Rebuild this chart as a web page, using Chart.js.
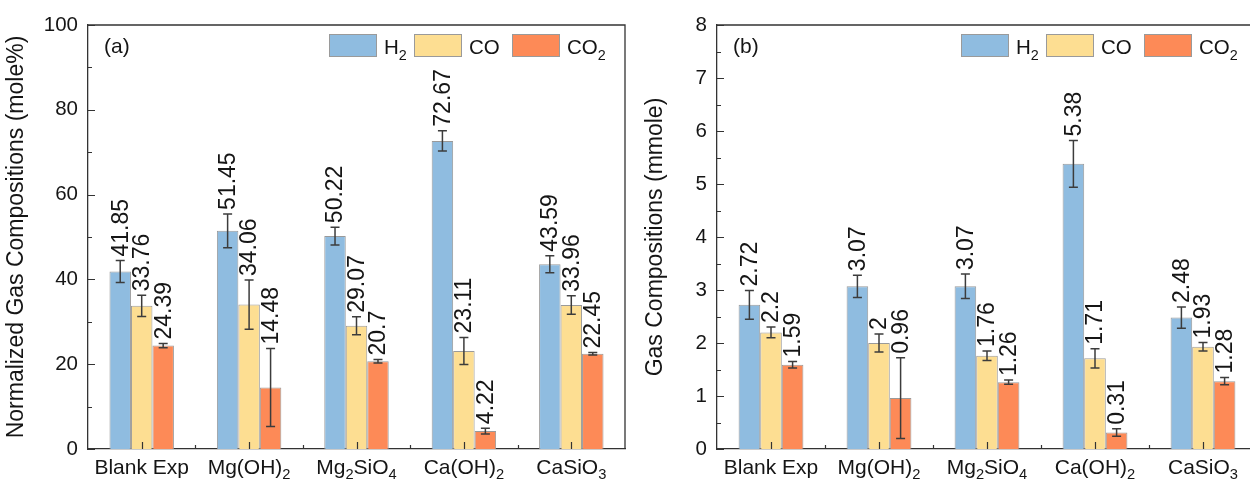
<!DOCTYPE html>
<html><head><meta charset="utf-8">
<script src="https://cdn.jsdelivr.net/npm/chart.js@4.4.1/dist/chart.umd.min.js"></script>
<style>
html,body{margin:0;padding:0;background:#fff;overflow:hidden;width:1250px;height:479px;position:relative;}
#wrapA{position:absolute;left:0;top:0;width:640px;height:479px;}
#wrapB{position:absolute;left:625px;top:0;width:650px;height:479px;}
</style></head><body>
<div id="wrapA"><canvas id="chartA"></canvas></div>
<div id="wrapB"><canvas id="chartB"></canvas></div>
<script>
// ---- data ----
const categories = ['Blank Exp', 'Mg(OH)₂', 'Mg₂SiO₄', 'Ca(OH)₂', 'CaSiO₃'];
const seriesNames = ['H₂', 'CO', 'CO₂'];

const molePctH2 = [41.85, 51.45, 50.22, 72.67, 43.59];
const molePctCO = [33.76, 34.06, 29.07, 23.11, 33.96];
const molePctCO2 = [24.39, 14.48, 20.7, 4.22, 22.45];
const molePctH2Err = [2.6, 4.0, 2.1, 2.4, 2.0];
const molePctCOErr = [2.5, 5.8, 2.1, 3.2, 2.2];
const molePctCO2Err = [0.5, 9.2, 0.4, 0.7, 0.3];

const mmolH2 = [2.72, 3.07, 3.07, 5.38, 2.48];
const mmolCO = [2.2, 2, 1.76, 1.71, 1.93];
const mmolCO2 = [1.59, 0.96, 1.26, 0.31, 1.28];
const mmolH2Err = [0.27, 0.21, 0.23, 0.44, 0.2];
const mmolCOErr = [0.1, 0.17, 0.09, 0.18, 0.08];
const mmolCO2Err = [0.06, 0.76, 0.04, 0.07, 0.07];

const majorTicksA = [0, 20, 40, 60, 80, 100];
const majorTicksB = [0, 1, 2, 3, 4, 5, 6, 7, 8];

// ---- style ----
const FONT = '"Liberation Sans", Arial, Helvetica, sans-serif';
const COLORS = ['#8FBCE0', '#FDDE92', '#FD8A57'];
const BORDER = '#9a9a9a';
const AXIS = '#333333';
const TEXT = '#151515';

const SUB = {'₀':'0','₁':'1','₂':'2','₃':'3','₄':'4','₅':'5','₆':'6','₇':'7','₈':'8','₉':'9'};
function drawRich(ctx, text, x, y, size, align) {
  const runs = []; let cur = '', curSub = false;
  for (const ch of text) {
    const s = ch in SUB; const c = s ? SUB[ch] : ch;
    if (s !== curSub && cur) { runs.push([cur, curSub]); cur = ''; }
    curSub = s; cur += c;
  }
  if (cur) runs.push([cur, curSub]);
  const subSize = size * 0.7;
  let w = 0;
  for (const [t, s] of runs) { ctx.font = (s ? subSize : size) + 'px ' + FONT; w += ctx.measureText(t).width; }
  let sx = align === 'center' ? x - w / 2 : align === 'right' ? x - w : x;
  ctx.textAlign = 'left'; ctx.textBaseline = 'alphabetic';
  for (const [t, s] of runs) {
    ctx.font = (s ? subSize : size) + 'px ' + FONT;
    ctx.fillText(t, sx, s ? y + size * 0.28 : y);
    sx += ctx.measureText(t).width;
  }
}

const decorPlugin = {
  id: 'decor',
  afterDatasetsDraw(chart, args, opts) {
    const ctx = chart.ctx, ca = chart.chartArea;
    const xs = chart.scales.x, ys = chart.scales.y;
    ctx.save();
    // frame top & right
    ctx.strokeStyle = AXIS; ctx.lineWidth = 1.3;
    ctx.beginPath();
    ctx.moveTo(ca.left, ca.top); ctx.lineTo(ca.right, ca.top); ctx.lineTo(ca.right, ca.bottom);
    ctx.stroke();
    // inward ticks y
    ctx.lineWidth = 1.2;
    ctx.beginPath();
    ys.ticks.forEach(t => {
      const py = Math.round(ys.getPixelForValue(t.value)) + 0.5;
      const len = opts.major.includes(t.value) ? 7 : 4;
      ctx.moveTo(ca.left, py); ctx.lineTo(ca.left + len, py);
    });
    // inward ticks x
    const n = chart.data.labels.length;
    for (let i = 0; i < n; i++) {
      const cx = Math.round(xs.getPixelForValue(i)) + 0.5;
      ctx.moveTo(cx, ca.bottom); ctx.lineTo(cx, ca.bottom - 7);
      if (i < n - 1) {
        const bx = Math.round((xs.getPixelForValue(i) + xs.getPixelForValue(i + 1)) / 2) + 0.5;
        ctx.moveTo(bx, ca.bottom); ctx.lineTo(bx, ca.bottom - 4);
      }
    }
    ctx.stroke();
    // error bars + value labels
    chart.data.datasets.forEach((ds, di) => {
      const meta = chart.getDatasetMeta(di);
      meta.data.forEach((bar, i) => {
        const v = ds.data[i], e = ds.errors[i];
        const yt = ys.getPixelForValue(v + e), yb = ys.getPixelForValue(v - e);
        ctx.strokeStyle = '#3c3c3c'; ctx.lineWidth = 1.5;
        ctx.beginPath();
        ctx.moveTo(bar.x, yt); ctx.lineTo(bar.x, yb);
        ctx.moveTo(bar.x - 4.5, yt); ctx.lineTo(bar.x + 4.5, yt);
        ctx.moveTo(bar.x - 4.5, yb); ctx.lineTo(bar.x + 4.5, yb);
        ctx.stroke();
        ctx.save();
        ctx.translate(bar.x + 1, yt - 4);
        ctx.rotate(-Math.PI / 2);
        ctx.font = '23px ' + FONT; ctx.fillStyle = TEXT;
        ctx.textAlign = 'left'; ctx.textBaseline = 'middle';
        ctx.fillText(String(v), 0, 0);
        ctx.restore();
      });
    });
    // x category labels
    ctx.fillStyle = TEXT;
    chart.data.labels.forEach((lab, i) => {
      drawRich(ctx, lab, xs.getPixelForValue(i), ca.bottom + 24.5, 21, 'center');
    });
    // panel label
    ctx.font = '21px ' + FONT; ctx.textAlign = 'left'; ctx.textBaseline = 'alphabetic';
    ctx.fillText(opts.panel, ca.left + 16, 52.5);
    // legend
    chart.data.datasets.forEach((ds, di) => {
      const bx = ca.right - opts.legendOffsets[di];
      ctx.fillStyle = ds.backgroundColor;
      ctx.fillRect(bx, 34, 48, 23);
      ctx.strokeStyle = BORDER; ctx.lineWidth = 1;
      ctx.strokeRect(bx + 0.5, 34.5, 47, 22);
      ctx.fillStyle = TEXT;
      drawRich(ctx, ds.label, bx + 55, 54, 20.5, 'left');
    });
    ctx.restore();
  }
};

function makeDatasets(vals, errs) {
  return seriesNames.map((name, k) => ({
    label: name,
    data: vals[k],
    errors: errs[k],
    backgroundColor: COLORS[k],
    borderColor: BORDER,
    borderWidth: 1,
    categoryPercentage: 0.6,
    barPercentage: 1.0
  }));
}

function makeChart(id, vals, errs, yMax, yStep, major, title, yWidth, titlePad, rightPad, panel) {
  return new Chart(document.getElementById(id), {
    type: 'bar',
    data: { labels: categories, datasets: makeDatasets(vals, errs) },
    options: {
      responsive: true,
      maintainAspectRatio: false,
      animation: false,
      layout: { padding: { left: 0, right: rightPad, top: 25, bottom: 0 } },
      plugins: {
        legend: { display: false },
        tooltip: { enabled: false },
        decor: { major: major, panel: panel, legendOffsets: [296, 211, 113] }
      },
      scales: {
        x: {
          grid: { display: false, drawTicks: false },
          border: { display: true, color: AXIS, width: 1.3 },
          ticks: { display: false },
          afterFit(s) { s.height = 30; }
        },
        y: {
          min: 0, max: yMax,
          grid: { display: false, drawTicks: false, tickLength: 0 },
          border: { display: true, color: AXIS, width: 1.3 },
          ticks: {
            stepSize: yStep, autoSkip: false, padding: 10,
            color: TEXT, font: { family: FONT, size: 20.5 },
            callback: (v) => major.includes(v) ? String(v) : ''
          },
          title: {
            display: true, text: title, color: TEXT,
            font: { family: FONT, size: 23 }, padding: { top: titlePad, bottom: 0 }
          },
          afterFit(s) { s.width = yWidth; }
        }
      }
    },
    plugins: [decorPlugin]
  });
}

makeChart('chartA', [molePctH2, molePctCO, molePctCO2], [molePctH2Err, molePctCOErr, molePctCO2Err],
  100, 10, majorTicksA, 'Normalized Gas Compositions (mole%)', 88, 3, 15, '(a)');
makeChart('chartB', [mmolH2, mmolCO, mmolCO2], [mmolH2Err, mmolCOErr, mmolCO2Err],
  8, 0.5, majorTicksB, 'Gas Compositions (mmole)', 92, 17, 18, '(b)');
</script>
</body></html>
